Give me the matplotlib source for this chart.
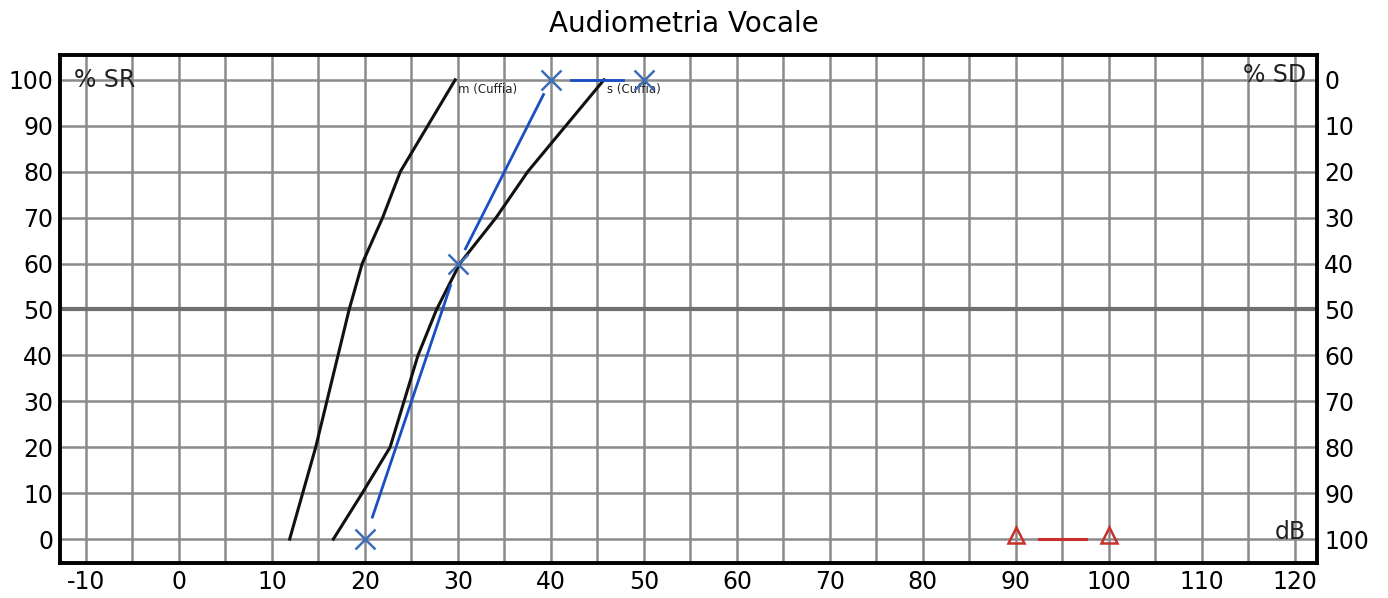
import matplotlib
matplotlib.use("Agg")
import matplotlib.pyplot as plt
import numpy as np

plt.rcParams["axes.unicode_minus"] = False

# ---- data ----
norm_m_db = [11.9, 14.7, 18.3, 19.7, 21.9, 23.8, 29.7]
norm_m_pct = [0, 20, 50, 60, 70, 80, 100]
norm_s_db = [16.6, 19.7, 22.7, 25.7, 27.7, 30.2, 34.1, 37.5, 45.7]
norm_s_pct = [0, 10, 20, 40, 50, 60, 70, 80, 100]
patient_db = [20, 30, 40, 50]
patient_pct = [0, 60, 100, 100]
ucl_db = [90, 100]
ucl_pct = [0, 0]
x_ticks = list(range(-10, 121, 10))
y_ticks = list(range(0, 101, 10))
sd_ticks = list(range(0, 101, 10))

fig = plt.figure(figsize=(13.88, 5.98), dpi=100)
ax = fig.add_axes([0.0432, 0.0585, 0.9058, 0.8495])
ax.set_xlim(-12.8, 122.4)
ax.set_ylim(-5.2, 105.4)

grid_c = "#8a8a8a"
for xv in np.arange(-10, 121, 5):
    ax.axvline(xv, color=grid_c, lw=1.8, zorder=1)
for yv in y_ticks:
    if yv == 50:
        ax.axhline(yv, color="#707070", lw=3.0, zorder=1)
    else:
        ax.axhline(yv, color=grid_c, lw=1.8, zorder=1)

for sp in ax.spines.values():
    sp.set_linewidth(2.8)
    sp.set_color("black")

ax.set_xticks(x_ticks)
ax.set_yticks(y_ticks)
ax.tick_params(length=0, labelsize=17, pad=5)

ax2 = ax.twinx()
ax2.set_ylim(100 - (-5.2), 100 - 105.4)
ax2.set_yticks(sd_ticks)
ax2.tick_params(length=0, labelsize=17, pad=5)
for sp in ax2.spines.values():
    sp.set_visible(False)

# norm curves
ax.plot(norm_m_db, norm_m_pct, color="#111111", lw=2.2, zorder=3)
ax.plot(norm_s_db, norm_s_pct, color="#111111", lw=2.2, zorder=3)
ax.text(norm_m_db[-1] + 0.3, norm_m_pct[-1] - 0.8, "m (Cuffia)", fontsize=8.5, va="top", ha="left", color="#222222")
ax.text(norm_s_db[-1] + 0.3, norm_s_pct[-1] - 0.8, "s (Cuffia)", fontsize=8.5, va="top", ha="left", color="#222222")

# patient curve with gaps near markers
blue = "#1a4fc4"
def gapped(xs, ys, color, gaps, lw=2.0):
    for i in range(len(xs) - 1):
        g = gaps[i]
        x0, y0, x1, y1 = xs[i], ys[i], xs[i + 1], ys[i + 1]
        ax.plot([x0 + (x1 - x0) * g, x1 - (x1 - x0) * g],
                [y0 + (y1 - y0) * g, y1 - (y1 - y0) * g],
                color=color, lw=lw, zorder=4)

gapped(patient_db, patient_pct, blue, gaps=[0.08, 0.08, 0.22])
ax.plot(patient_db, patient_pct, linestyle="none", marker="x", ms=15, mew=1.8,
        color="#3d6db8", zorder=5)

red = "#c8302c"
gapped(ucl_db, ucl_pct, red, gaps=[0.25], lw=2.2)
ax.plot(ucl_db, [p + 1 for p in ucl_pct], linestyle="none", marker="^", ms=11, mew=1.8,
        mfc="none", color=red, zorder=5)

ax.text(-11.3, 100, "% SR", fontsize=17, va="center", ha="left", color="#222222")
ax.text(121.2, 101, "% SD", fontsize=17, va="center", ha="right", color="#222222")
ax.text(121.2, 1.5, "dB", fontsize=17, va="center", ha="right", color="#222222")

fig.text(0.493, 0.96, "Audiometria Vocale", fontsize=20, ha="center", va="center")

fig.savefig("out.png", dpi=100)
